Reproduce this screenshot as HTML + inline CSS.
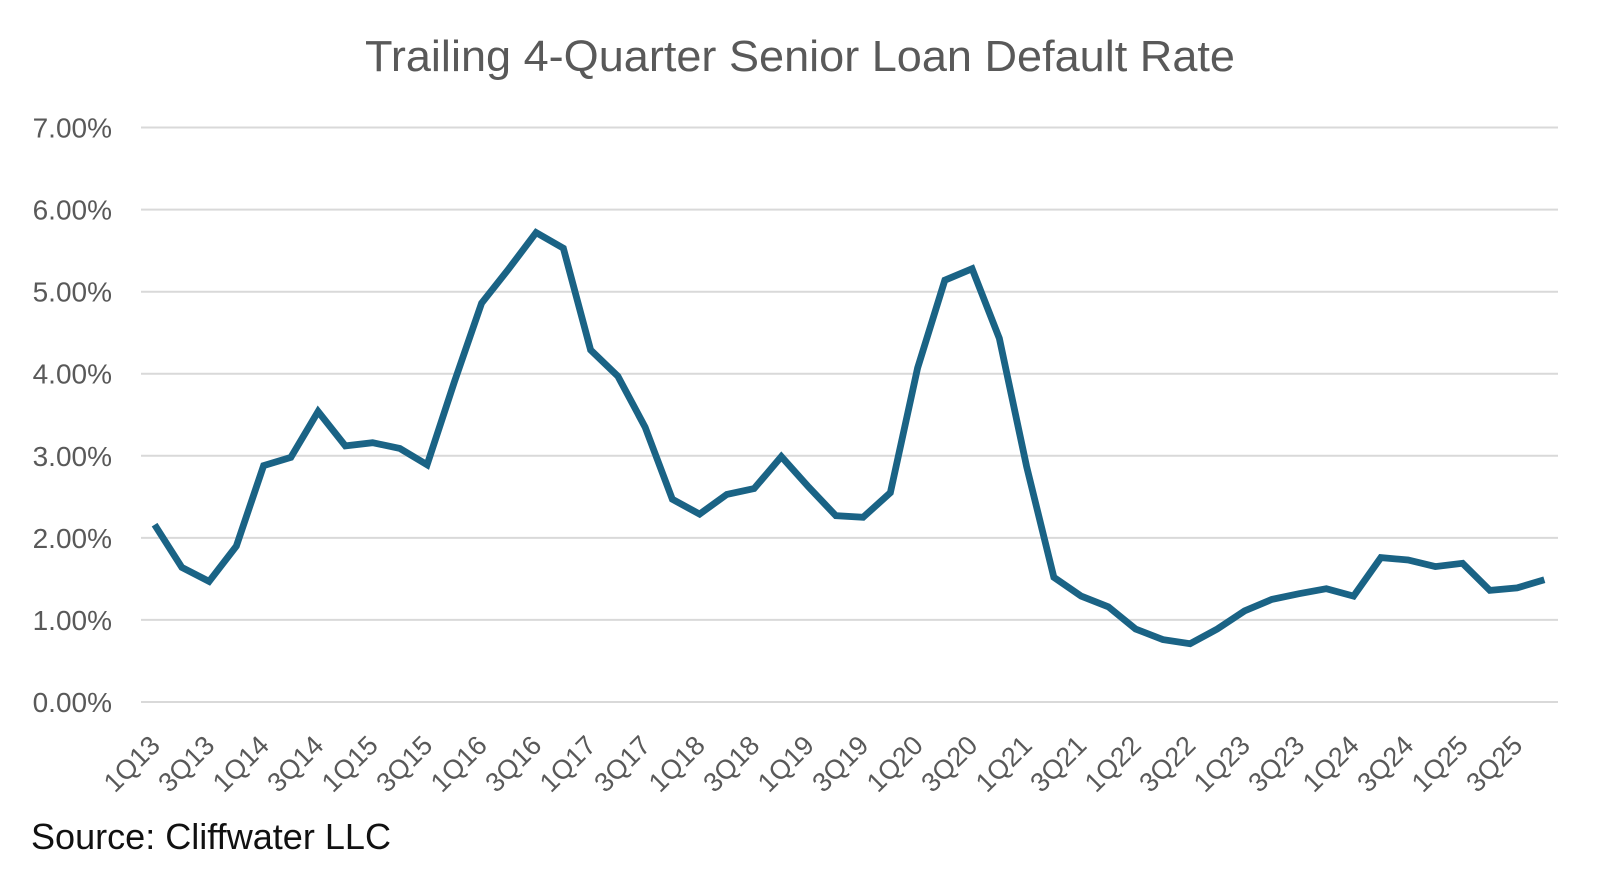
<!DOCTYPE html>
<html>
<head>
<meta charset="utf-8">
<style>
  html, body { margin: 0; padding: 0; background: #ffffff; }
  svg { display: block; }
  text { font-family: "Liberation Sans", "DejaVu Sans", sans-serif; }
</style>
</head>
<body>
<svg width="1600" height="874" viewBox="0 0 1600 874" xmlns="http://www.w3.org/2000/svg">
  <rect x="0" y="0" width="1600" height="874" fill="#ffffff"/>
  <!-- Title -->
  <text x="800" y="71" font-size="44" fill="#595959" text-anchor="middle" textLength="870" lengthAdjust="spacingAndGlyphs">Trailing 4-Quarter Senior Loan Default Rate</text>

  <!-- Gridlines -->
  <g stroke="#d9d9d9" stroke-width="2">
    <line x1="141" y1="127.5" x2="1558" y2="127.5"/>
    <line x1="141" y1="209.6" x2="1558" y2="209.6"/>
    <line x1="141" y1="291.7" x2="1558" y2="291.7"/>
    <line x1="141" y1="373.7" x2="1558" y2="373.7"/>
    <line x1="141" y1="455.8" x2="1558" y2="455.8"/>
    <line x1="141" y1="537.9" x2="1558" y2="537.9"/>
    <line x1="141" y1="619.9" x2="1558" y2="619.9"/>
    <line x1="141" y1="702" x2="1558" y2="702"/>
  </g>

  <!-- Y labels -->
  <g font-size="28" fill="#595959" text-anchor="end">
    <text x="112" y="137.5">7.00%</text>
    <text x="112" y="219.6">6.00%</text>
    <text x="112" y="301.7">5.00%</text>
    <text x="112" y="383.7">4.00%</text>
    <text x="112" y="465.8">3.00%</text>
    <text x="112" y="547.9">2.00%</text>
    <text x="112" y="629.9">1.00%</text>
    <text x="112" y="712">0.00%</text>
  </g>

  <!-- Data line -->
  <polyline fill="none" stroke="#1a6385" stroke-width="6.8" stroke-linejoin="miter" stroke-miterlimit="4" stroke-linecap="butt"
    points="154.6,524.7 181.85,567.4 209.1,581.4 236.35,546.1 263.6,465.6 290.85,457.4 318.1,411.5 345.35,445.9 372.6,442.7 399.85,448.4 427.1,464.8 454.35,381.9 481.6,303.1 508.85,268.7 536.1,232.6 563.35,248.2 590.6,349.9 617.85,376.2 645.1,427.1 672.35,499.3 699.6,514.1 726.85,494.4 754.1,488.6 781.35,456.6 808.6,487.0 835.85,515.7 863.1,517.3 890.35,492.7 917.6,368.0 944.85,280.2 972.1,268.7 999.35,338.4 1026.6,466.5 1053.85,577.3 1081.1,596.1 1108.35,606.8 1135.6,629.0 1162.85,639.6 1190.1,643.7 1217.35,629.0 1244.6,610.9 1271.85,599.4 1299.1,593.7 1326.35,588.7 1353.6,596.1 1380.85,557.6 1408.1,560.0 1435.35,566.6 1462.6,563.3 1489.85,590.4 1517.1,587.9 1544.35,579.7"/>

  <!-- X labels -->
  <g font-size="27" fill="#595959" text-anchor="end">
    <text transform="translate(161.6,747) rotate(-45)">1Q13</text>
    <text transform="translate(216.1,747) rotate(-45)">3Q13</text>
    <text transform="translate(270.6,747) rotate(-45)">1Q14</text>
    <text transform="translate(325.1,747) rotate(-45)">3Q14</text>
    <text transform="translate(379.6,747) rotate(-45)">1Q15</text>
    <text transform="translate(434.1,747) rotate(-45)">3Q15</text>
    <text transform="translate(488.6,747) rotate(-45)">1Q16</text>
    <text transform="translate(543.1,747) rotate(-45)">3Q16</text>
    <text transform="translate(597.6,747) rotate(-45)">1Q17</text>
    <text transform="translate(652.1,747) rotate(-45)">3Q17</text>
    <text transform="translate(706.6,747) rotate(-45)">1Q18</text>
    <text transform="translate(761.1,747) rotate(-45)">3Q18</text>
    <text transform="translate(815.6,747) rotate(-45)">1Q19</text>
    <text transform="translate(870.1,747) rotate(-45)">3Q19</text>
    <text transform="translate(924.6,747) rotate(-45)">1Q20</text>
    <text transform="translate(979.1,747) rotate(-45)">3Q20</text>
    <text transform="translate(1033.6,747) rotate(-45)">1Q21</text>
    <text transform="translate(1088.1,747) rotate(-45)">3Q21</text>
    <text transform="translate(1142.6,747) rotate(-45)">1Q22</text>
    <text transform="translate(1197.1,747) rotate(-45)">3Q22</text>
    <text transform="translate(1251.6,747) rotate(-45)">1Q23</text>
    <text transform="translate(1306.1,747) rotate(-45)">3Q23</text>
    <text transform="translate(1360.6,747) rotate(-45)">1Q24</text>
    <text transform="translate(1415.1,747) rotate(-45)">3Q24</text>
    <text transform="translate(1469.6,747) rotate(-45)">1Q25</text>
    <text transform="translate(1524.1,747) rotate(-45)">3Q25</text>
  </g>

  <!-- Source -->
  <text x="31" y="849" font-size="36" fill="#111111" textLength="360" lengthAdjust="spacingAndGlyphs">Source: Cliffwater LLC</text>
</svg>
</body>
</html>
